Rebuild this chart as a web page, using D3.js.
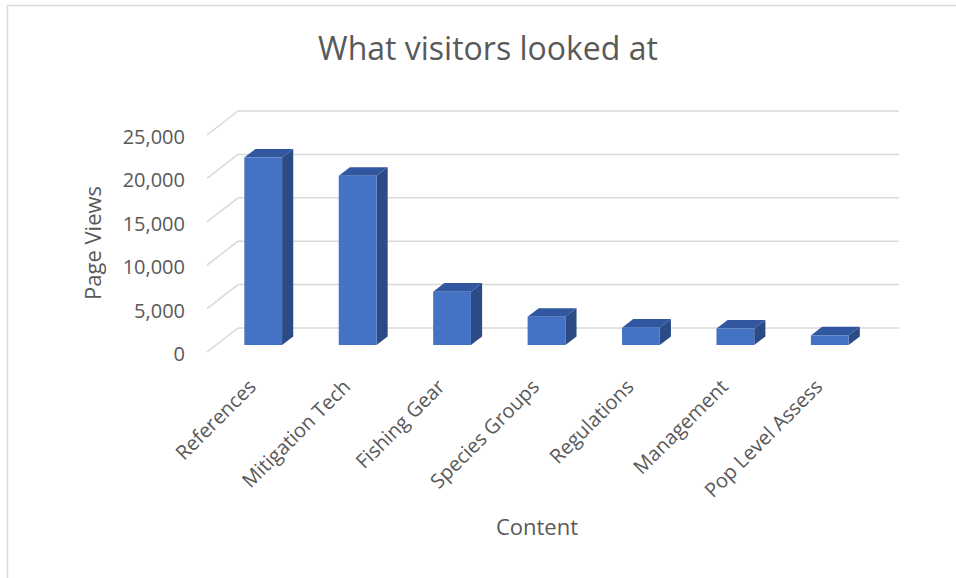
<!DOCTYPE html>
<html>
<head>
<meta charset="utf-8">
<script src="https://cdn.jsdelivr.net/npm/d3@7"></script>
<style>
  html, body { margin: 0; padding: 0; background: #fff; }
  svg { display: block; font-family: "Open Sans", sans-serif; }
</style>
</head>
<body>
<svg id="chart" width="956" height="578"></svg>
<script>
// Page views per content section
const categories = ["References", "Mitigation Tech", "Fishing Gear", "Species Groups",
                    "Regulations", "Management", "Pop Level Assess"];
const pageViews = [21600, 19500, 6150, 3250, 2000, 1900, 1100];
const yTicks = [0, 5000, 10000, 15000, 20000, 25000];

const svg = d3.select("#chart");

// Oblique projection: depth z in [0,1] shifts a point right and up
const depth = { dx: 31, dy: -24 };
const barZ0 = 0.29, barZ1 = 0.65;

const x = d3.scaleBand()
  .domain(categories)
  .range([207, 868])
  .paddingInner(0.6)
  .paddingOuter(0.3);

const y = d3.scaleLinear()
  .domain([0, 25000])
  .range([352, 135]);

const proj = (px, v, z) => [px + z * depth.dx, y(v) + z * depth.dy];
const pts = arr => arr.map(p => p.join(",")).join(" ");

// Outer chart border
svg.append("rect")
  .attr("x", 7.5).attr("y", 5.5)
  .attr("width", 960).attr("height", 580)
  .attr("fill", "none")
  .attr("stroke", "#D9D9D9")
  .attr("stroke-width", 1.5);

// Title
svg.append("text")
  .attr("x", 488).attr("y", 60)
  .attr("text-anchor", "middle")
  .attr("font-size", 32)
  .attr("fill", "#595959")
  .text("What visitors looked at");

// Gridlines: back wall and left side wall
const [x0, x1] = x.range();
const grid = svg.append("g")
  .attr("stroke", "#D9D9D9")
  .attr("stroke-width", 1.5)
  .attr("fill", "none");

grid.selectAll("line.back")
  .data(yTicks)
  .join("line")
  .attr("class", "back")
  .attr("x1", d => proj(x0, d, 1)[0]).attr("y1", d => proj(x0, d, 1)[1])
  .attr("x2", d => proj(x1, d, 1)[0]).attr("y2", d => proj(x1, d, 1)[1]);

grid.selectAll("line.side")
  .data(yTicks)
  .join("line")
  .attr("class", "side")
  .attr("x1", d => proj(x0, d, 0)[0]).attr("y1", d => proj(x0, d, 0)[1])
  .attr("x2", d => proj(x0, d, 1)[0]).attr("y2", d => proj(x0, d, 1)[1]);

// Y axis labels along the front edge of the side wall
const yAxis = svg.append("g")
  .attr("transform", `translate(${x0},2)`)
  .call(d3.axisLeft(y).tickValues(yTicks).tickFormat(d3.format(",")).tickSize(0).tickPadding(22));
yAxis.select(".domain").remove();
yAxis.selectAll("text")
  .attr("font-family", "Open Sans, sans-serif")
  .attr("font-size", 20)
  .attr("fill", "#595959");

// 3D columns
const data = categories.map((c, i) => ({ c, v: pageViews[i] }));
const bars = svg.append("g").selectAll("g.bar")
  .data(data)
  .join("g")
  .attr("class", "bar");

const bw = x.bandwidth();

bars.append("polygon")
  .attr("fill", "#2C4B86")
  .attr("points", d => {
    const r = x(d.c) + bw;
    return pts([proj(r, 0, barZ0), proj(r, d.v, barZ0), proj(r, d.v, barZ1), proj(r, 0, barZ1)]);
  });

bars.append("polygon")
  .attr("fill", "#30579F")
  .attr("points", d => {
    const l = x(d.c), r = l + bw;
    return pts([proj(l, d.v, barZ0), proj(r, d.v, barZ0), proj(r, d.v, barZ1), proj(l, d.v, barZ1)]);
  });

bars.append("polygon")
  .attr("fill", "#4472C4")
  .attr("points", d => {
    const l = x(d.c), r = l + bw;
    return pts([proj(l, 0, barZ0), proj(r, 0, barZ0), proj(r, d.v, barZ0), proj(l, d.v, barZ0)]);
  });

// Category labels, rotated
const xAxis = svg.append("g")
  .attr("transform", "translate(3,388)")
  .call(d3.axisBottom(x).tickSize(0));
xAxis.select(".domain").remove();
xAxis.selectAll("text")
  .attr("x", 0).attr("y", 0).attr("dy", 0)
  .attr("transform", "rotate(-45)")
  .attr("text-anchor", "end")
  .attr("font-family", "Open Sans, sans-serif")
  .attr("font-size", 20)
  .attr("fill", "#595959");

// Axis titles
svg.append("text")
  .attr("transform", "translate(101,243) rotate(-90)")
  .attr("text-anchor", "middle")
  .attr("font-size", 22)
  .attr("fill", "#595959")
  .text("Page Views");

svg.append("text")
  .attr("x", 537).attr("y", 535)
  .attr("text-anchor", "middle")
  .attr("font-size", 22)
  .attr("fill", "#595959")
  .text("Content");
</script>
</body>
</html>
